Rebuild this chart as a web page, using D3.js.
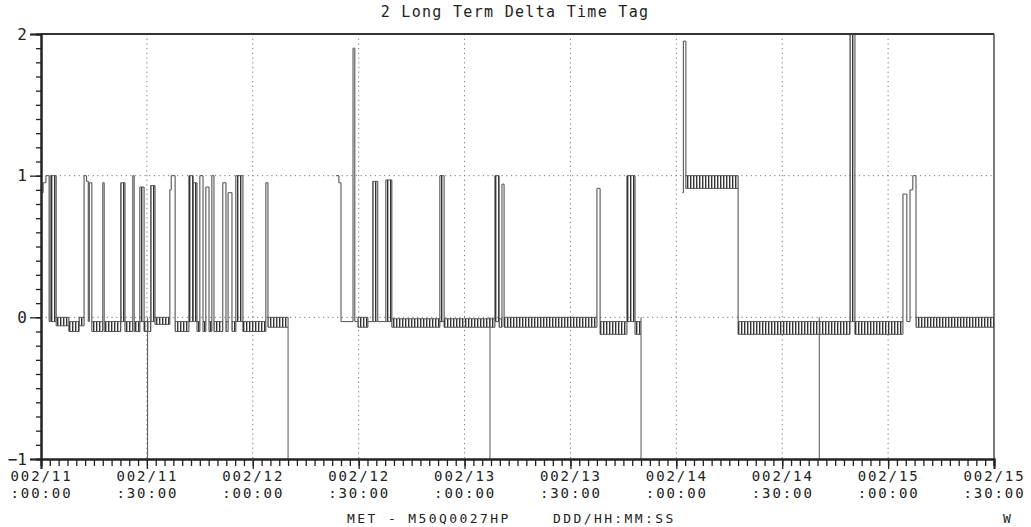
<!DOCTYPE html>
<html>
<head>
<meta charset="utf-8">
<script src="https://cdn.jsdelivr.net/npm/d3@7"></script>
<style>
  body { margin: 0; background: #fff; }
  svg { display: block; }
  text { font-family: "DejaVu Sans Mono", monospace; fill: #222; }
</style>
</head>
<body>
<svg id="chart" width="1031" height="527"></svg>
<script>
const chartTitle = '2 Long Term Delta Time Tag';
const xTickDays = ['002/11', '002/11', '002/12', '002/12', '002/13', '002/13', '002/14', '002/14', '002/15', '002/15'];
const xTickTimes = [':00:00', ':30:00', ':00:00', ':30:00', ':00:00', ':30:00', ':00:00', ':30:00', ':00:00', ':30:00'];
const yTicks = [-1, 0, 1, 2];

// minutes after 002/11:00:00 -> [start, end, low, high]
const run1 = [
  [0, 0.6, 0.88, 0.88], [0.6, 1.4, 0.95, 0.95], [1.4, 2.3, 1.0, 1.0], [2.3, 2.6, -0.03, -0.03],
  [2.6, 4.3, -0.03, 1.0], [4.3, 7.9, -0.06, 0.0], [7.9, 10.8, -0.1, -0.03], [10.8, 12.2, -0.06, 0.0],
  [12.2, 12.9, 1.0, 1.0], [12.9, 13.4, 0.96, 0.96], [13.4, 13.7, -0.03, -0.03], [13.7, 14.4, 0.95, 0.95],
  [14.4, 17.5, -0.1, -0.03], [17.5, 17.9, 0.95, 0.95], [17.9, 22.6, -0.1, -0.03], [22.6, 23.8, -0.03, 0.95],
  [23.8, 26.0, -0.1, -0.03], [26.0, 26.4, 1.0, 1.0], [26.4, 28.0, -0.1, -0.03], [28.0, 29.2, -0.03, 0.92],
  [29.2, 31.1, -0.1, -0.03], [31.1, 32.3, -0.03, 0.93], [32.3, 36.5, -0.05, 0.0], [36.5, 36.9, 0.9, 0.9],
  [36.9, 38.0, 1.0, 1.0], [38.0, 41.9, -0.1, -0.03], [41.9, 43.1, -0.03, 1.0], [43.1, 44.2, -0.03, 0.95],
  [44.2, 45.0, -0.1, -0.03], [45.0, 45.9, 1.0, 1.0], [45.9, 46.7, -0.1, -0.03], [46.7, 47.6, 0.92, 0.92],
  [47.6, 48.4, -0.1, -0.03], [48.4, 49.0, 1.0, 1.0], [49.0, 51.5, -0.1, -0.03], [51.5, 52.4, 0.95, 0.95],
  [52.4, 53.0, -0.1, -0.03], [53.0, 54.1, 0.88, 0.88], [54.1, 55.2, -0.1, -0.03], [55.2, 57.2, -0.03, 1.0],
  [57.2, 63.7, -0.1, -0.03], [63.7, 64.3, 0.95, 0.95], [64.3, 70.0, -0.07, 0.0]
];
const run2 = [
  [83.6, 84.4, 1.0, 1.0], [84.4, 85.0, 0.95, 0.95], [85.0, 88.4, -0.03, -0.03], [88.4, 88.9, 1.9, 1.9],
  [88.9, 89.8, -0.03, -0.03], [89.8, 92.6, -0.07, 0.0], [92.6, 94.0, -0.03, -0.03], [94.0, 95.4, -0.03, 0.96],
  [95.4, 97.7, -0.03, -0.03], [97.7, 99.4, -0.03, 0.97], [99.4, 113.0, -0.07, -0.01], [113.0, 114.2, -0.03, 1.0],
  [114.2, 128.6, -0.07, -0.01], [128.6, 129.8, -0.03, 1.0], [129.8, 130.6, -0.07, -0.01], [130.6, 131.2, 0.94, 0.94],
  [131.2, 157.5, -0.07, 0.0], [157.5, 158.4, 0.91, 0.91], [158.4, 166.0, -0.12, -0.03], [166.0, 168.3, -0.03, 1.0],
  [168.3, 170.0, -0.12, -0.03]
];
const run3 = [
  [181.7, 182.0, 0.88, 0.88], [182.0, 182.7, 1.95, 1.95], [182.7, 197.5, 0.91, 1.0], [197.5, 229.2, -0.12, -0.03],
  [229.2, 230.6, -0.03, 2.0], [230.6, 244.2, -0.12, -0.03], [244.2, 245.3, 0.87, 0.87], [245.3, 246.2, -0.03, -0.03],
  [246.2, 247.0, 0.9, 0.9], [247.0, 247.9, 1.0, 1.0], [247.9, 270, -0.07, 0.0]
];
// instants where the trace falls to -1
const drops = [30.2, 70.0, 127.2, 170.0, 220.5];

const svg = d3.select('svg#chart');
const x = d3.scaleLinear().domain([0, 270]).range([41, 994]);
const y = d3.scaleLinear().domain([-1, 2]).range([459, 34]);

const defs = svg.append('defs');
defs.append('pattern')
  .attr('id', 'hatch')
  .attr('patternUnits', 'userSpaceOnUse')
  .attr('width', 3).attr('height', 4)
  .append('rect')
    .attr('width', 1.4).attr('height', 4)
    .attr('fill', '#333');

// grid
const grid = svg.append('g').attr('stroke', '#777').attr('stroke-width', 1).attr('stroke-dasharray', '1.2,3.5');
grid.selectAll('line.v').data(d3.range(30, 270, 30))
  .enter().append('line')
    .attr('x1', d => x(d)).attr('x2', d => x(d))
    .attr('y1', y(2)).attr('y2', y(-1));
grid.selectAll('line.h').data([0, 1])
  .enter().append('line')
    .attr('x1', x(0)).attr('x2', x(270))
    .attr('y1', d => y(d)).attr('y2', d => y(d));

// trace
const trace = svg.append('g');
const drawRun = (run) => {
  run.forEach((s, i) => {
    const [t0, t1, lo, hi] = s;
    if (hi - lo > 0.005) {
      trace.append('rect')
        .attr('x', x(t0)).attr('width', x(t1) - x(t0))
        .attr('y', y(hi)).attr('height', y(lo) - y(hi))
        .attr('fill', 'url(#hatch)');
      [lo, hi].forEach(v => trace.append('line')
        .attr('x1', x(t0)).attr('x2', x(t1)).attr('y1', y(v)).attr('y2', y(v))
        .attr('stroke', '#555').attr('stroke-width', 1));
    } else {
      trace.append('line')
        .attr('x1', x(t0)).attr('x2', x(t1)).attr('y1', y(hi)).attr('y2', y(hi))
        .attr('stroke', '#555').attr('stroke-width', 1);
    }
    const n = run[i + 1];
    if (n) {
      trace.append('line')
        .attr('x1', x(t1)).attr('x2', x(t1))
        .attr('y1', y(Math.max(hi, n[3]))).attr('y2', y(Math.min(lo, n[2])))
        .attr('stroke', '#555').attr('stroke-width', 1.1);
    }
  });
};
[run1, run2, run3].forEach(drawRun);

trace.selectAll('line.drop').data(drops)
  .enter().append('line')
    .attr('x1', d => x(d)).attr('x2', d => x(d))
    .attr('y1', y(0)).attr('y2', y(-1))
    .attr('stroke', '#555').attr('stroke-width', 1);

// frame
svg.append('line').attr('x1', x(0)).attr('x2', x(270)).attr('y1', y(2)).attr('y2', y(2))
  .attr('stroke', '#333').attr('stroke-width', 2);
svg.append('line').attr('x1', x(270)).attr('x2', x(270)).attr('y1', y(2)).attr('y2', y(-1))
  .attr('stroke', '#444').attr('stroke-width', 1.4);

// axes
const minorX = svg.append('g').attr('transform', `translate(0,${y(-1)})`)
  .call(d3.axisBottom(x).tickValues(d3.range(0, 270.01, 2.5)).tickSize(7).tickFormat(''));
const majorX = svg.append('g').attr('transform', `translate(0,${y(-1)})`)
  .call(d3.axisBottom(x).tickValues(d3.range(0, 270.01, 30)).tickSize(10).tickFormat(''));
const minorY = svg.append('g').attr('transform', `translate(${x(0)},0)`)
  .call(d3.axisLeft(y).tickValues(d3.range(-1, 2.001, 0.1)).tickSize(5).tickFormat(''));
const majorY = svg.append('g').attr('transform', `translate(${x(0)},0)`)
  .call(d3.axisLeft(y).tickValues(yTicks).tickSize(11).tickPadding(3).tickFormat(d3.format('d')));

[minorX, majorX, minorY, majorY].forEach(a => {
  a.selectAll('path.domain').attr('stroke', '#222').attr('stroke-width', 2);
  a.selectAll('.tick line').attr('stroke', '#222').attr('stroke-width', 1.3);
});
majorY.selectAll('text')
  .style('font-size', '16px').style('font-family', '"DejaVu Sans Mono", monospace').attr('fill', '#222');

majorX.selectAll('.tick').each(function (d, i) {
  const g = d3.select(this);
  g.append('text').attr('x', 0).attr('y', 22)
    .attr('text-anchor', 'middle')
    .style('font-size', '14px').style('letter-spacing', '1.9px')
    .attr('fill', '#222').text(xTickDays[i]);
  g.append('text').attr('x', 0).attr('y', 39)
    .attr('text-anchor', 'middle')
    .style('font-size', '14px').style('letter-spacing', '1.9px')
    .attr('fill', '#222').text(xTickTimes[i]);
});

// texts
svg.append('text').attr('x', 515).attr('y', 17).attr('text-anchor', 'middle')
  .style('font-size', '15px').style('letter-spacing', '1.3px').text(chartTitle);
svg.append('text').attr('x', 347).attr('y', 523)
  .style('font-size', '13px').style('letter-spacing', '2.4px').attr('fill', '#999').text('MET - M50Q0027HP');
svg.append('text').attr('x', 553).attr('y', 523)
  .style('font-size', '13px').style('letter-spacing', '2.4px').text('DDD/HH:MM:SS');
svg.append('text').attr('x', 1003).attr('y', 523)
  .style('font-size', '13px').text('W');
</script>
</body>
</html>
